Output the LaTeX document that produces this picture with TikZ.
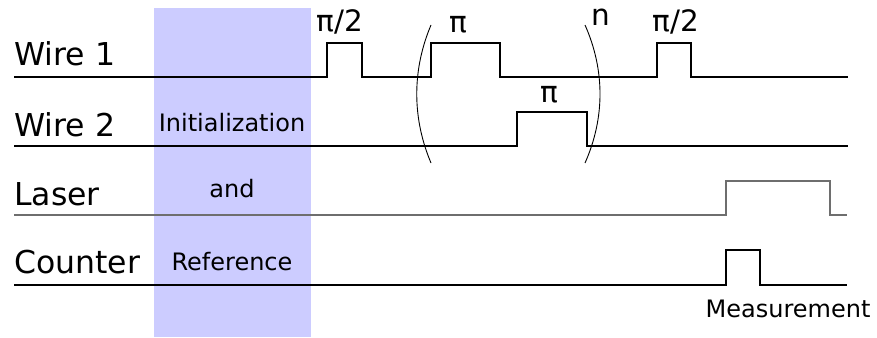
\documentclass[tikz,border=0pt]{standalone}
\usepackage{fontspec}
\setmainfont{DejaVu Sans}
\begin{document}
\begin{tikzpicture}[x=1pt,y=-1pt,
  signal/.style={line width=1.1pt,line join=miter},
  wirelabel/.style={anchor=base west,inner sep=0pt,font=\fontsize{31.5}{37}\selectfont},
  pulselabel/.style={anchor=base,inner sep=0pt,font=\fontsize{29.5}{35}\selectfont},
  phaselabel/.style={anchor=base,inner sep=0pt,font=\fontsize{24}{29}\selectfont},
  bracket/.style={line width=0.9pt}]
  \useasboundingbox (0,0) rectangle (877,337);
  \definecolor{initblue}{RGB}{204,204,255}
  \definecolor{lasergray}{RGB}{110,110,110}

  % initialization / reference window
  \fill[initblue] (154,8) rectangle (311,337);
  \node[phaselabel] (init) at (232,131) {Initialization};
  \node[phaselabel] (and) at (232,197) {and};
  \node[phaselabel] (ref) at (232,270) {Reference};

  % channel names
  \node[wirelabel] (w1) at (14,66) {Wire 1};
  \node[wirelabel] (w2) at (14,136) {Wire 2};
  \node[wirelabel] (las) at (14,205) {Laser};
  \node[wirelabel] (cnt) at (14,273) {Counter};

  % pulse sequences
  \draw[signal] (14,77) -- (327,77) -- (327,43) -- (362,43) -- (362,77)
    -- (431,77) -- (431,43) -- (500,43) -- (500,77)
    -- (657,77) -- (657,43) -- (691,43) -- (691,77) -- (848,77);
  \draw[signal] (14,146) -- (517,146) -- (517,112) -- (587,112) -- (587,146) -- (848,146);
  \draw[signal,lasergray] (14,215) -- (726,215) -- (726,181) -- (830,181) -- (830,215) -- (847,215);
  \draw[signal] (14,285) -- (726,285) -- (726,250) -- (760,250) -- (760,285) -- (847,285);

  % pulse angles
  \node[pulselabel] (p1) at (340,32) {π/2};
  \node[pulselabel] (p2) at (458,33) {π};
  \node[pulselabel] (p3) at (549,102) {π};
  \node[pulselabel] (p4) at (676,32) {π/2};

  % repeated block
  \draw[bracket] (431,25) .. controls (412,70) and (412,118) .. (431,163);
  \draw[bracket] (585,25) .. controls (605,70) and (605,118) .. (585,163);
  \node[pulselabel] (rep) at (601,26) {n};

  \node[phaselabel] (meas) at (788,317) {Measurement};
\end{tikzpicture}
\end{document}
